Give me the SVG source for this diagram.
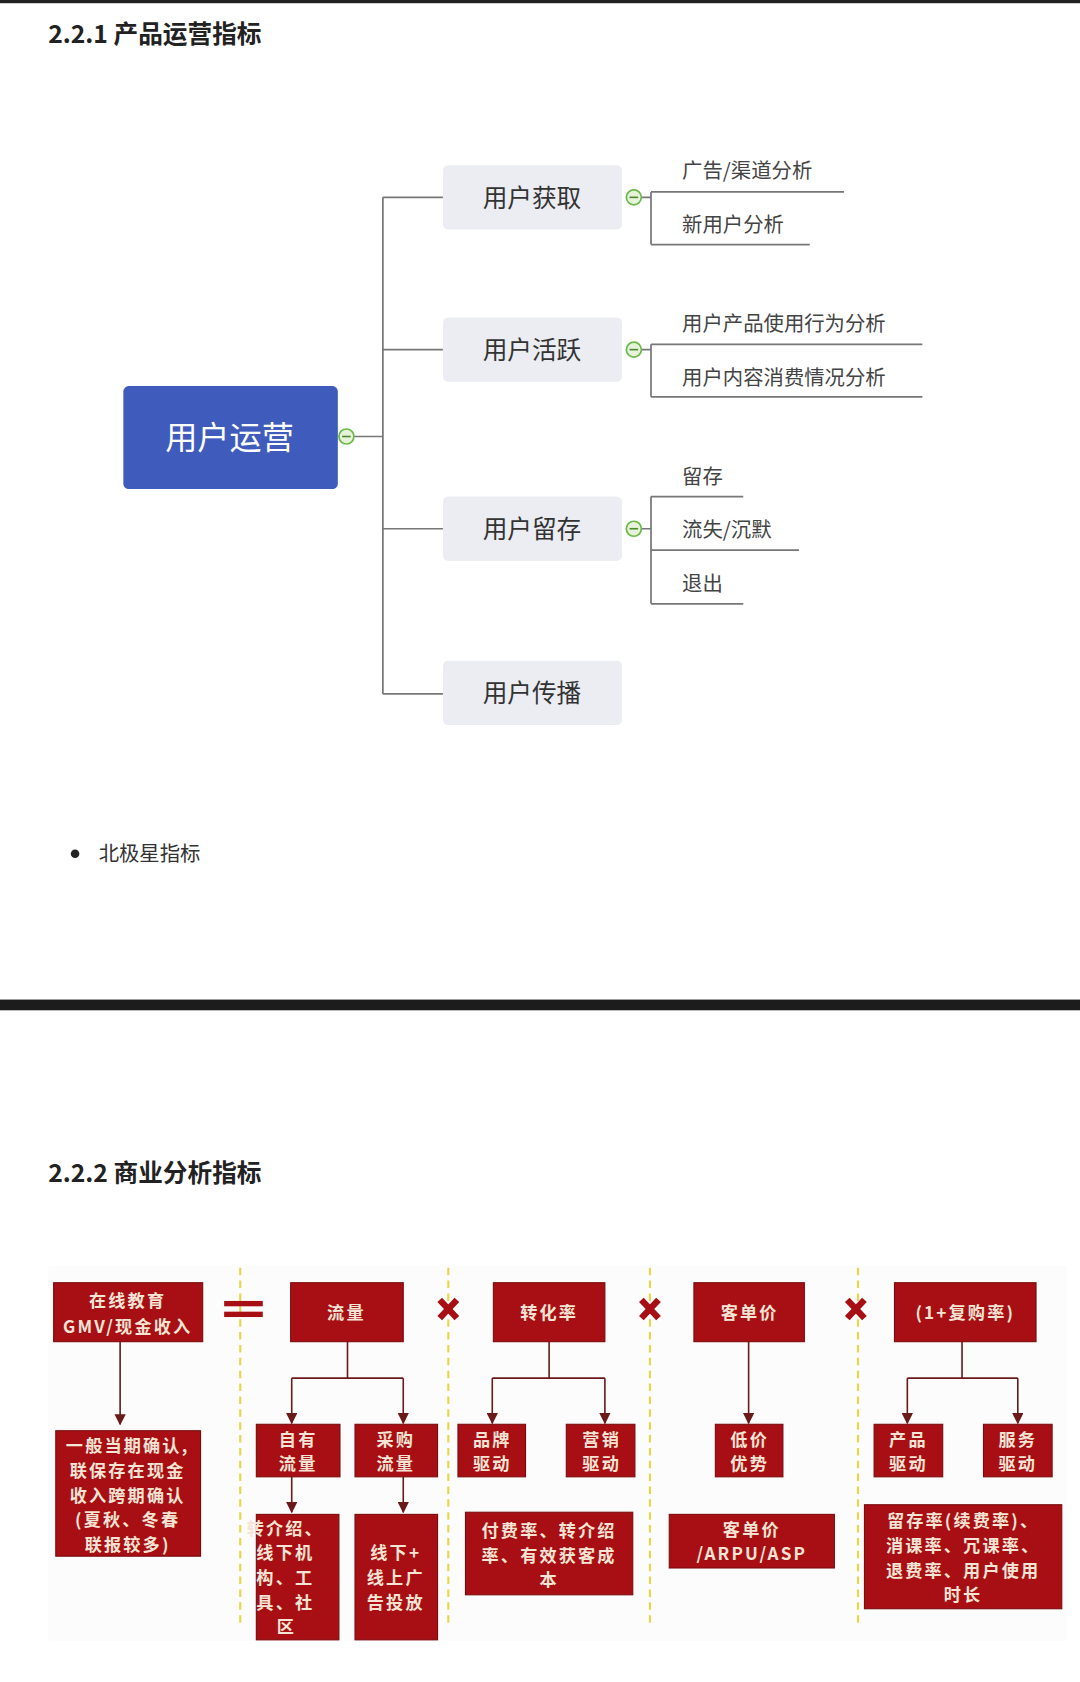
<svg xmlns="http://www.w3.org/2000/svg" width="1080" height="1682" viewBox="0 0 1080 1682">
<style>
.t{font-family:"Noto Sans CJK SC","Noto Sans",sans-serif;fill:#333}
.h{font-family:"Noto Sans CJK SC","Noto Sans",sans-serif;font-weight:bold;font-size:23px;fill:#222}
.ln{stroke:#777;stroke-width:1.6;fill:none}
.nb{fill:#ebedf2}
.nt{font-family:"Noto Sans CJK SC",sans-serif;font-size:23px;fill:#333;text-anchor:middle}
.lf{font-family:"Noto Sans CJK SC",sans-serif;font-size:19px;fill:#444}
.gc{fill:#e6f3da;stroke:#6cb94a;stroke-width:1.6}
.rb{fill:#a80f14;stroke:#7a0a0c;stroke-width:1}
.rt{font-family:"Noto Sans CJK SC",sans-serif;font-weight:bold;font-size:16px;fill:#f6e4d4;text-anchor:middle;letter-spacing:2px}
.ar{stroke:#6b1a1a;stroke-width:1.5;fill:none;marker-end:url(#ah)}
.al{stroke:#6b1a1a;stroke-width:1.5;fill:none}
.dl{stroke:#e8d64a;stroke-width:2;stroke-dasharray:7,5}
</style>
<defs>
<marker id="ah" viewBox="0 0 10 10" refX="9" refY="5" markerWidth="7" markerHeight="7" orient="auto"><path d="M0,0L10,5L0,10z" fill="#6b1a1a"/></marker>
</defs>
<rect width="1080" height="1682" fill="#fff"/>
<g transform="scale(1.0725)">
<rect x="0" y="0" width="1007" height="3" fill="#222"/>
<text class="h" x="45" y="40">2.2.1 产品运营指标</text>

<g id="connectors">
<path class="ln" d="M330,407H357M357,184V647M357,184H413M357,326H413M357,493H413M357,647H413"/>
<path class="ln" d="M598,184H607M607,179V228M607,179H787M607,228H755"/>
<path class="ln" d="M598,326H607M607,321V370M607,321H860M607,370H860"/>
<path class="ln" d="M598,493H607M607,463V563M607,463H693M607,513H745M607,563H693"/>
</g>
<g id="root"><rect x="115" y="360" width="200" height="96" rx="5" fill="#3f5cbd"/><text x="214" y="419" font-family="Noto Sans CJK SC,sans-serif" font-size="30" fill="#fff" text-anchor="middle">用户运营</text><circle class="gc" cx="323" cy="407" r="7"/><path d="M319,407H327" stroke="#4a8a30" stroke-width="1.5"/></g>
<g id="n1"><rect class="nb" x="413" y="154" width="167" height="60" rx="5"/><text class="nt" x="496" y="193">用户获取</text><circle class="gc" cx="591" cy="184" r="7"/><path d="M587,184H595" stroke="#4a8a30" stroke-width="1.5"/></g>
<g id="n2"><rect class="nb" x="413" y="296" width="167" height="60" rx="5"/><text class="nt" x="496" y="335">用户活跃</text><circle class="gc" cx="591" cy="326" r="7"/><path d="M587,326H595" stroke="#4a8a30" stroke-width="1.5"/></g>
<g id="n3"><rect class="nb" x="413" y="463" width="167" height="60" rx="5"/><text class="nt" x="496" y="502">用户留存</text><circle class="gc" cx="591" cy="493" r="7"/><path d="M587,493H595" stroke="#4a8a30" stroke-width="1.5"/></g>
<g id="n4"><rect class="nb" x="413" y="616" width="167" height="60" rx="5"/><text class="nt" x="496" y="655">用户传播</text></g>
<g id="l1"><text class="lf" x="636" y="166">广告/渠道分析</text></g>
<g id="l2"><text class="lf" x="636" y="216">新用户分析</text></g>
<g id="l3"><text class="lf" x="636" y="309">用户产品使用行为分析</text></g>
<g id="l4"><text class="lf" x="636" y="359">用户内容消费情况分析</text></g>
<g id="l5"><text class="lf" x="636" y="451">留存</text></g>
<g id="l6"><text class="lf" x="636" y="501">流失/沉默</text></g>
<g id="l7"><text class="lf" x="636" y="551">退出</text></g>

<circle cx="70" cy="796" r="4" fill="#222"/>
<text class="t" x="92" y="803" font-size="19">北极星指标</text>
<rect x="0" y="932" width="1007" height="10" fill="#1c1c1c"/>
<text class="h" x="45" y="1102">2.2.2 商业分析指标</text>

<rect x="45" y="1180" width="950" height="350" fill="#fcfcfc"/>
<g id="sep">
<path class="dl" d="M224,1182V1517M418,1182V1517M606,1182V1517M800,1182V1517"/>
<rect x="209" y="1213" width="36" height="5" fill="#a80f14"/><rect x="209" y="1223" width="36" height="5" fill="#a80f14"/>
<path d="M410,1212L426,1229M426,1212L410,1229M598,1212L614,1229M614,1212L598,1229M790,1212L806,1229M806,1212L790,1229" stroke="#a80f14" stroke-width="6"/>
</g>
<g id="bconnectors">
<path class="ar" d="M112,1251V1328"/>
<path class="al" d="M324,1251V1285M272,1285H376"/><path class="ar" d="M272,1285V1327"/><path class="ar" d="M376,1285V1327"/>
<path class="ar" d="M272,1377V1410"/><path class="ar" d="M376,1377V1410"/>
<path class="al" d="M512,1251V1285M459,1285H564"/><path class="ar" d="M459,1285V1327"/><path class="ar" d="M564,1285V1327"/>
<path class="ar" d="M698,1251V1327"/>
<path class="al" d="M897,1251V1285M846,1285H949"/><path class="ar" d="M846,1285V1327"/><path class="ar" d="M949,1285V1327"/>
</g>
<g id="b1"><rect class="rb" x="50" y="1196" width="139" height="55"/><text class="rt" x="119" y="1219">在线教育</text><text class="rt" x="119" y="1243" letter-spacing="0">GMV/现金收入</text></g>
<g id="b2"><rect class="rb" x="52" y="1334" width="135" height="117"/><text class="rt" x="119" y="1354">一般当期确认,</text><text class="rt" x="119" y="1377">联保存在现金</text><text class="rt" x="119" y="1400">收入跨期确认</text><text class="rt" x="119" y="1423">(夏秋、冬春</text><text class="rt" x="119" y="1446">联报较多)</text></g>
<g id="b3"><rect class="rb" x="271" y="1196" width="105" height="55"/><text class="rt" x="323" y="1230">流量</text></g>
<g id="b4"><rect class="rb" x="239" y="1328" width="78" height="49"/><text class="rt" x="278" y="1348">自有</text><text class="rt" x="278" y="1371">流量</text></g>
<g id="b5"><rect class="rb" x="331" y="1328" width="77" height="49"/><text class="rt" x="369" y="1348">采购</text><text class="rt" x="369" y="1371">流量</text></g>
<g id="b6"><rect class="rb" x="239" y="1412" width="77" height="117"/><text class="rt" x="266" y="1431">转介绍、</text><text class="rt" x="266" y="1454">线下机</text><text class="rt" x="266" y="1477">构、工</text><text class="rt" x="266" y="1500">具、社</text><text class="rt" x="267" y="1523">区</text></g>
<g id="b7"><rect class="rb" x="331" y="1412" width="77" height="117"/><text class="rt" x="369" y="1454">线下+</text><text class="rt" x="369" y="1477">线上广</text><text class="rt" x="369" y="1500">告投放</text></g>
<g id="b8"><rect class="rb" x="460" y="1196" width="104" height="55"/><text class="rt" x="512" y="1230">转化率</text></g>
<g id="b9"><rect class="rb" x="427" y="1328" width="63" height="49"/><text class="rt" x="459" y="1348">品牌</text><text class="rt" x="459" y="1371">驱动</text></g>
<g id="b10"><rect class="rb" x="528" y="1328" width="64" height="49"/><text class="rt" x="561" y="1348">营销</text><text class="rt" x="561" y="1371">驱动</text></g>
<g id="b11"><rect class="rb" x="434" y="1410" width="156" height="77"/><text class="rt" x="512" y="1433">付费率、转介绍</text><text class="rt" x="512" y="1456">率、有效获客成</text><text class="rt" x="512" y="1479">本</text></g>
<g id="b12"><rect class="rb" x="647" y="1196" width="103" height="55"/><text class="rt" x="699" y="1230">客单价</text></g>
<g id="b13"><rect class="rb" x="667" y="1328" width="63" height="49"/><text class="rt" x="699" y="1348">低价</text><text class="rt" x="699" y="1371">优势</text></g>
<g id="b14"><rect class="rb" x="624" y="1412" width="154" height="50"/><text class="rt" x="701" y="1432">客单价</text><text class="rt" x="701" y="1455" letter-spacing="0">/ARPU/ASP</text></g>
<g id="b15"><rect class="rb" x="834" y="1196" width="132" height="55"/><text class="rt" x="900" y="1230">(1+复购率)</text></g>
<g id="b16"><rect class="rb" x="815" y="1328" width="64" height="49"/><text class="rt" x="847" y="1348">产品</text><text class="rt" x="847" y="1371">驱动</text></g>
<g id="b17"><rect class="rb" x="917" y="1328" width="64" height="49"/><text class="rt" x="949" y="1348">服务</text><text class="rt" x="949" y="1371">驱动</text></g>
<g id="b18"><rect class="rb" x="806" y="1403" width="184" height="97"/><text class="rt" x="898" y="1424">留存率(续费率)、</text><text class="rt" x="898" y="1447">消课率、冗课率、</text><text class="rt" x="898" y="1470">退费率、用户使用</text><text class="rt" x="898" y="1493">时长</text></g>
</g>
</svg>
